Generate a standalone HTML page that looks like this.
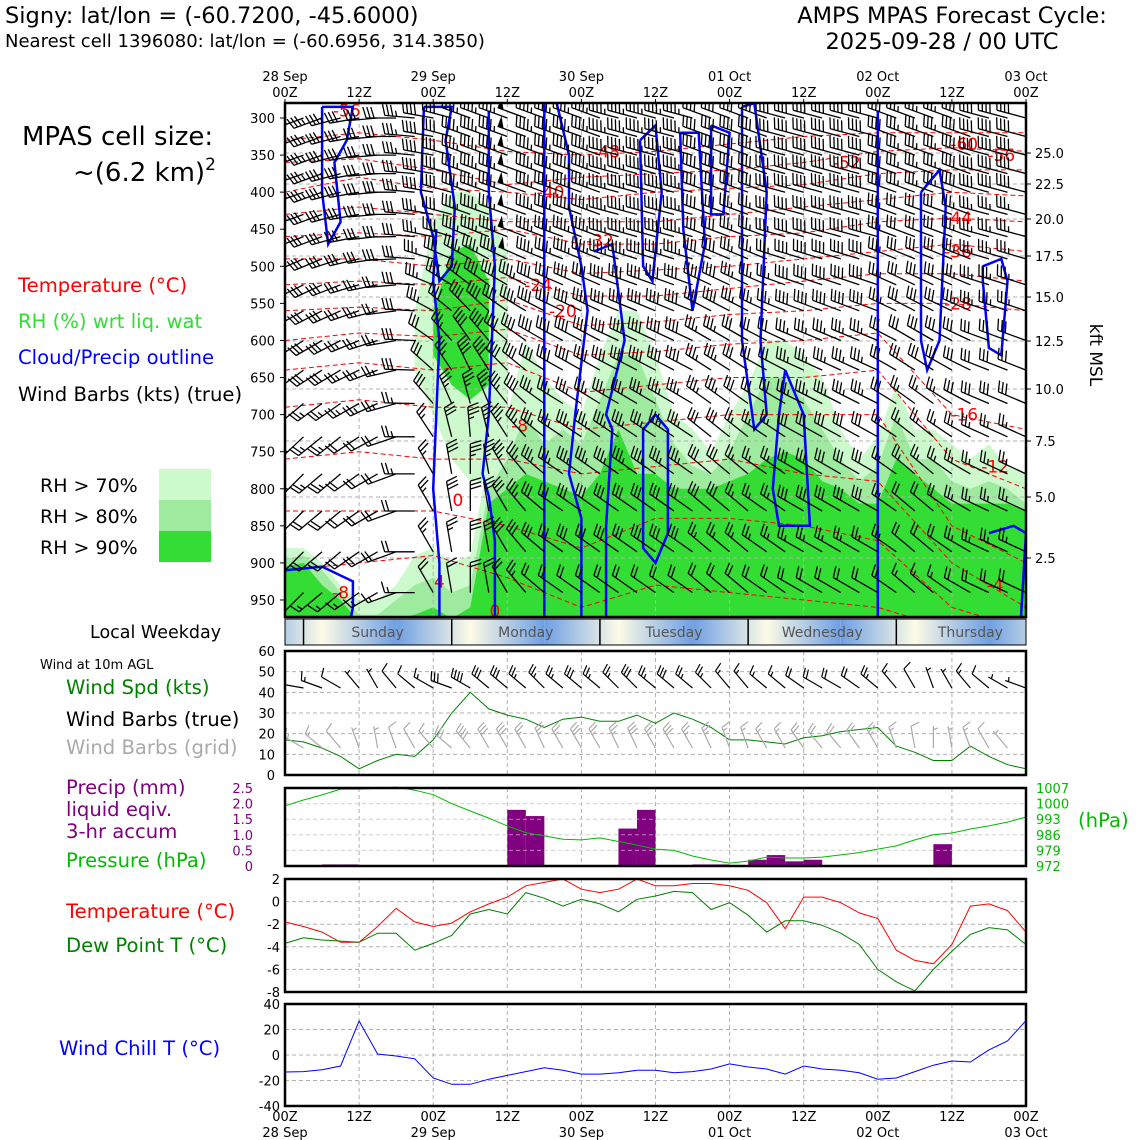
<!DOCTYPE html>
<html><head><meta charset="utf-8"><style>
html,body{margin:0;padding:0;background:#fff;}
svg{display:block;font-family:"DejaVu Sans","Liberation Sans",sans-serif;}
</style></head><body>
<svg id="chart" width="1140" height="1140" viewBox="0 0 1140 1140" xmlns="http://www.w3.org/2000/svg">
<defs>
<clipPath id="mainClip"><rect x="285" y="103" width="741" height="514"/></clipPath>
<clipPath id="windClip"><rect x="285" y="651" width="741" height="124"/></clipPath>
<clipPath id="dayClip"><rect x="285" y="619" width="741" height="26"/></clipPath>
<linearGradient id="dayGrad" x1="0" x2="1" y1="0" y2="0">
<stop offset="0" stop-color="#6f9fe3"/><stop offset="0.5" stop-color="#fdfbe6"/><stop offset="1" stop-color="#6f9fe3"/>
</linearGradient>
</defs>
<text x="5" y="23" font-size="22.5">Signy: lat/lon = (-60.7200, -45.6000)</text>
<text x="5" y="47" font-size="18">Nearest cell 1396080: lat/lon = (-60.6956, 314.3850)</text>
<text x="952" y="23" font-size="22.5" text-anchor="middle">AMPS MPAS Forecast Cycle:</text>
<text x="942" y="49" font-size="22.5" text-anchor="middle">2025-09-28 / 00 UTC</text>
<text x="22" y="145" font-size="26">MPAS cell size:</text>
<text x="73" y="181" font-size="26">~(6.2 km)<tspan font-size="17" dy="-11">2</tspan></text>
<text x="18" y="292" font-size="19.6" fill="#ff0000">Temperature (°C)</text>
<text x="18" y="328" font-size="19.6" fill="#33dd33">RH (%) wrt liq. wat</text>
<text x="18" y="364" font-size="19.6" fill="#0000ff">Cloud/Precip outline</text>
<text x="18" y="401" font-size="19.6" fill="#000">Wind Barbs (kts) (true)</text>
<text x="40" y="492" font-size="19">RH &gt; 70%</text>
<text x="40" y="523" font-size="19">RH &gt; 80%</text>
<text x="40" y="554" font-size="19">RH &gt; 90%</text>
<rect x="159" y="469" width="52" height="31" fill="#ccfacc"/>
<rect x="159" y="500" width="52" height="31" fill="#9eea9e"/>
<rect x="159" y="531" width="52" height="31" fill="#33dd33"/>
<text x="90" y="638" font-size="17.5">Local Weekday</text>
<text x="40" y="669" font-size="13">Wind at 10m AGL</text>
<text x="66" y="694" font-size="19.6" fill="#008000">Wind Spd (kts)</text>
<text x="66" y="726" font-size="19.6" fill="#000">Wind Barbs (true)</text>
<text x="66" y="754" font-size="19.6" fill="#aaaaaa">Wind Barbs (grid)</text>
<text x="66" y="794" font-size="19.6" fill="#800080">Precip (mm)</text>
<text x="66" y="816" font-size="19.6" fill="#800080">liquid eqiv.</text>
<text x="66" y="838" font-size="19.6" fill="#800080">3-hr accum</text>
<text x="66" y="867" font-size="19.6" fill="#00bb00">Pressure (hPa)</text>
<text x="1078" y="827" font-size="19.6" fill="#00bb00">(hPa)</text>
<text x="66" y="918" font-size="19.6" fill="#ff0000">Temperature (°C)</text>
<text x="66" y="952" font-size="19.6" fill="#008000">Dew Point T (°C)</text>
<text x="59" y="1055" font-size="19.6" fill="#0000ff">Wind Chill T (°C)</text>
<text x="1090" y="355" font-size="17" transform="rotate(90 1090 355)" text-anchor="middle">kft MSL</text>
<g id="layers"></g>
</svg>
<script>
// ===== data =====
const hours = [];for(let i=0;i<=40;i++)hours.push(i*3);
const windSpd = [17,16,13,9,3,7,10,9,17,30,40,32,29,27,23,27,28,26,26,29,25,30,27,23,17,17,16,15,18,19,21,22,23,14,11,7,7,14,9,5,3];
const windDir = [250,260,270,280,300,310,300,290,280,270,280,290,290,290,295,290,290,290,295,295,290,290,290,295,300,300,290,290,285,280,280,285,290,300,310,320,310,300,290,280,270];
const pressure = [999,1001.6,1003.9,1006.5,1006.5,1006.8,1007.4,1006,1004,1000,996.7,993.5,990,987,985.5,984,983.7,984.6,983,981.4,979.6,979,976.5,974.7,973.3,974.2,976,975.6,975.6,976,977,978,979.6,981,983.7,986,986.8,988.6,990,991.7,994];
const precipHours = [6,9,36,39,54,57,66,69,75,78,81,84,105];
const precipVals = [0.05,0.05,1.8,1.6,1.2,1.8,0.05,0.05,0.2,0.35,0.15,0.2,0.7];
const temp2m = [-1.8,-2.2,-2.7,-3.6,-3.6,-2.2,-0.6,-1.8,-2.2,-1.9,-0.9,-0.2,0.4,1.4,1.7,2,1.1,0.8,1.1,2,1.4,1.4,1.6,1.6,1.4,1,-0.1,-2.4,0.4,0.4,-0.1,-1,-1.5,-4.3,-5.2,-5.5,-3.8,-0.4,-0.2,-0.8,-2.7];
const dewpt = [-3.7,-3.2,-3.4,-3.5,-3.6,-2.8,-2.8,-4.3,-3.7,-3,-1.1,-0.7,-1.1,0.8,0.3,-0.4,0.2,-0.2,-0.9,0.2,0.5,0.9,0.8,-0.7,-0.1,-1.2,-2.7,-1.7,-1.7,-2.1,-2.8,-3.8,-6,-7.1,-7.9,-6,-4.4,-2.9,-2.3,-2.5,-3.8];
const windChill = [-13.3,-13,-11.5,-8.6,26.7,0.8,-0.8,-3,-18,-23,-23,-19,-16,-13,-10,-12,-15,-15,-14,-12,-12,-14,-13,-11,-7,-9.4,-11,-15,-8.6,-11,-12,-14,-19,-18,-13,-8,-4.7,-5.5,4,11,27];
const rh70top = [880,880,900,930,950,950,930,890,880,900,890,760,700,600,650,680,700,620,560,560,620,700,720,750,700,660,600,600,620,650,720,760,730,660,720,720,740,760,740,770,780];
const rh80top = [895,890,910,940,970,970,950,930,920,940,930,800,760,700,740,720,740,680,620,620,680,740,770,780,750,700,650,650,680,720,760,790,770,700,760,760,790,800,790,800,820];
const rh90top = [905,900,930,950,980,980,975,970,960,975,960,820,800,780,790,800,810,780,720,780,780,800,800,800,790,780,760,750,760,790,800,820,820,760,780,800,820,820,820,820,830];
const blob70Hours = [21,24,27,30,33,36];
const blob70Top = [560,440,400,400,420,480];
const blob70Bot = [640,700,760,790,790,760];
const blob90Hours = [24,27,30,33];
const blob90Top = [560,480,470,520];
const blob90Bot = [620,660,680,660];
const isoHours = [0,12,24,36,48,60,72,84,96,108,120];
const isotherms = [
 [330,320,330,345,350,345,335,325,320,320,320],
 [360,355,370,390,380,375,370,360,345,340,345],
 [400,380,395,400,410,400,395,390,375,370,370],
 [430,420,430,440,440,440,430,420,410,400,405],
 [460,455,460,450,470,470,460,455,440,435,440],
 [490,490,500,490,510,505,500,490,480,470,480],
 [525,520,525,515,540,540,530,520,510,510,520],
 [560,555,560,545,580,575,565,560,550,550,560],
 [600,590,595,585,620,615,605,600,590,700,720],
 [640,630,640,630,670,660,650,650,640,760,800],
 [690,680,690,690,720,710,700,700,700,850,900],
 [760,750,760,760,780,770,760,780,790,900,960],
 [830,830,830,850,880,840,840,850,870,960,990],
 [910,900,890,920,960,930,940,950,960,990,999]
];
const isoLabels = ["-56","-48","-40","-32","-24","-20","-8","0","4","-8","-36","-28","-16","-12","-4","-44","-52","-56","-60","0"];
const isoLabelHour = [10,52,43,51,41,45,38,28,25,9,109,109,110,115,115,109,91,116,110,34];
const isoLabelP = [290,345,400,465,525,560,715,815,925,940,480,550,700,770,930,435,360,350,335,965];
const clouds = [
 [[6,285],[11,285],[10,330],[8,360],[9,440],[7,470],[6,400],[6,285]],
 [[22.5,285],[27,285],[26,330],[27.5,420],[27,500],[25,520],[24,460],[22,400],[22.5,285]],
 [[24.5,450],[24,520],[25,600],[24.5,700],[24,800],[25,900],[25,1000]],
 [[33,290],[33,400],[34,500],[33,700],[32,780],[33,810],[34,870],[34,1000]],
 [[42,280],[42,1000]],
 [[44,280],[46,350],[46,420],[48,500],[49,560],[47,700],[46,780],[48,840],[48,1000]],
 [[50,480],[53,470],[55,600],[52,700],[53,720],[52,850],[52,1000]],
 [[57.5,330],[60,310],[61,400],[59.5,520],[58,500],[57.5,330]],
 [[64,320],[67,320],[68,470],[66,560],[64.5,450],[64,320]],
 [[69,310],[72,320],[71,430],[69,430],[69,310]],
 [[74,285],[76,280],[78,400],[77,600],[78,700],[76,720],[74,600],[74,285]],
 [[60,700],[62,720],[62,860],[60,900],[58,880],[58,720],[60,700]],
 [[81,640],[80,700],[79,800],[80,850],[85,850],[84,700],[81,640]],
 [[96,290],[96,1000]],
 [[103,400],[106,370],[107,420],[106,600],[104,640],[103,600],[103,400]],
 [[113,500],[116,490],[117,520],[116,620],[114,610],[113,520],[113,500]],
 [[0,910],[6,905],[11,925],[11,960],[10,1000]],
 [[114,860],[118,850],[120,860],[119,1000]]
];
const barbLevels = [300,325,350,375,400,430,460,490,525,560,600,640,685,730,780,830,885,940];
const levelSpeed = [42,42,42,42,42,40,40,40,38,38,35,35,33,30,30,28,25,20];
const dirHigh = [250,250,250,255,260,265,270,275,280,285,290,290,290,290,290,290,290,290,285,285,285,285,285,290,290,290,290,285,285,285,285,285,285,290,290,290,290,290,285,285,285];
const dirLow = [225,225,230,230,235,240,250,270,330,350,360,350,330,320,310,305,305,305,305,305,305,305,305,310,310,310,305,305,300,300,300,300,300,305,310,310,305,300,295,295,295];
const timeSpeedFactor = [0.8,0.8,0.8,0.8,0.7,0.7,0.7,0.8,0.9,1,1.1,1.1,1.1,1.2,1.1,1.1,1.1,1.1,1.1,1.1,1.1,1.1,1.1,1,1,0.9,0.9,0.9,1,1,1,1,1,0.9,0.8,0.8,0.8,0.9,0.9,0.9,0.9];
const pTicks = [300,350,400,450,500,550,600,650,700,750,800,850,900,950];
const kftTicks = ["25.0","22.5","20.0","17.5","15.0","12.5","10.0","7.5","5.0","2.5"];
const kftY = [153,184,219,256,297,341,389,441,497,558];
const timeTickHours = [0,12,24,36,48,60,72,84,96,108,120];
const timeTickLabels = ["00Z","12Z","00Z","12Z","00Z","12Z","00Z","12Z","00Z","12Z","00Z"];
const dateLabels = ["28 Sep","","29 Sep","","30 Sep","","01 Oct","","02 Oct","","03 Oct"];
const weekdays = ["Sunday","Monday","Tuesday","Wednesday","Thursday"];
const windTicks = [0,10,20,30,40,50,60];
const precipTicks = [0,0.5,1.0,1.5,2.0,2.5];
const presTicks = [972,979,986,993,1000,1007];
const tempTicks = [2,0,-2,-4,-6,-8];
const chillTicks = [40,20,0,-20,-40];

// ===== helpers =====
const NS="http://www.w3.org/2000/svg";
const root=document.getElementById('layers');
function el(tag,attrs,parent){const e=document.createElementNS(NS,tag);for(const k in attrs)e.setAttribute(k,attrs[k]);(parent||root).appendChild(e);return e;}
const X0=285,X1=1026;
const xT=h=>X0+h/120*(X1-X0);
const yP=p=>118+(p-300)*0.7415;
const yW=v=>775-v*(124/60);
const yPr=v=>866-v*(78/2.5);
const yPres=v=>866-(v-972)*(78/35);
const yTmp=v=>879+(2-v)*(113/10);
const yWC=v=>1004+(40-v)*(102/80);

function barb(parent,x,y,spd,dir,len,color,sw,fl,step){
  const r=dir*Math.PI/180;const ux=Math.sin(r),uy=-Math.cos(r);
  const tx=x+ux*len,ty=y+uy*len;
  let d=`M${x.toFixed(1)},${y.toFixed(1)}L${tx.toFixed(1)},${ty.toFixed(1)}`;
  const px=-uy,py=ux;
  let s=Math.round(spd/5)*5;let pos=0;
  let poly='';
  while(s>=50){const bx=tx-ux*pos,by=ty-uy*pos;const cx=tx-ux*(pos+step*1.6),cy=ty-uy*(pos+step*1.6);
    poly+=`M${bx.toFixed(1)},${by.toFixed(1)}L${(bx+px*fl).toFixed(1)},${(by+py*fl).toFixed(1)}L${cx.toFixed(1)},${cy.toFixed(1)}Z`;pos+=step*2;s-=50;}
  while(s>=10){const bx=tx-ux*pos,by=ty-uy*pos;d+=`M${bx.toFixed(1)},${by.toFixed(1)}l${(px*fl+ux*fl*0.3).toFixed(1)},${(py*fl+uy*fl*0.3).toFixed(1)}`;pos+=step;s-=10;}
  if(s>=5){if(pos===0)pos=step;const bx=tx-ux*pos,by=ty-uy*pos;d+=`M${bx.toFixed(1)},${by.toFixed(1)}l${(px*fl*0.5+ux*fl*0.15).toFixed(1)},${(py*fl*0.5+uy*fl*0.15).toFixed(1)}`;}
  const g=el('g',{},parent);
  el('path',{d:d,stroke:color,'stroke-width':sw,fill:'none'},g);
  if(poly)el('path',{d:poly,fill:color,stroke:'none'},g);
  return g;
}
function polyline(parent,xs,ys,color,w,dash){
  let d='';for(let i=0;i<xs.length;i++)d+=(i?'L':'M')+xs[i].toFixed(1)+','+ys[i].toFixed(1);
  const a={d:d,fill:'none',stroke:color,'stroke-width':w};if(dash)a['stroke-dasharray']=dash;
  return el('path',a,parent);
}
function txt(parent,x,y,s,size,anchor,fill){const t=el('text',{x:x,y:y,'font-size':size,'text-anchor':anchor||'start',fill:fill||'#000'},parent);t.textContent=s;return t;}

// ===== main panel =====
const main=el('g',{'clip-path':'url(#mainClip)'});


function rhArea(tops,color,name){
  let d=`M${xT(hours[0])},${yP(1000)}`;
  for(let i=0;i<hours.length;i++)d+=`L${xT(hours[i]).toFixed(1)},${yP(tops[i]).toFixed(1)}`;
  d+=`L${xT(120)},${yP(1000)}Z`;
  const a=el('path',{d:d,fill:color,stroke:'none'},main);
  
  
}
function blob(hs,tops,bots,color,name){
  let d='';
  for(let i=0;i<hs.length;i++)d+=(i?'L':'M')+xT(hs[i]).toFixed(1)+','+yP(tops[i]).toFixed(1);
  for(let i=hs.length-1;i>=0;i--)d+='L'+xT(hs[i]).toFixed(1)+','+yP(bots[i]).toFixed(1);
  const a=el('path',{d:d+'Z',fill:color,stroke:'none'},main);
  
  
}
rhArea(rh70top,'#ccfacc','rh-70-area');
blob(blob70Hours,blob70Top,blob70Bot,'#ccfacc','rh-70-mid-blob');
rhArea(rh80top,'#9eea9e','rh-80-area');
rhArea(rh90top,'#33dd33','rh-90-area');
blob(blob90Hours,blob90Top,blob90Bot,'#33dd33','rh-90-mid-blob');
for(let i=1;i<timeTickHours.length-1;i++){
  const gl=el('line',{x1:xT(timeTickHours[i]),x2:xT(timeTickHours[i]),y1:103,y2:617,stroke:'#b0b0b0','stroke-dasharray':'4,3','stroke-width':1},main);
  
  
}
for(let i=0;i<kftY.length;i++){
  const gl=el('line',{x1:285,x2:1026,y1:kftY[i],y2:kftY[i],stroke:'#b0b0b0','stroke-dasharray':'4,3','stroke-width':1},main);
  
  
}
isotherms.forEach(arr=>{
  const l=polyline(main,isoHours.map(xT),arr.map(yP),'#ff0000',1,'5,3');
  
  
});
for(let i=0;i<isoLabels.length;i++){
  const t=txt(main,xT(isoLabelHour[i]),yP(isoLabelP[i])+6,isoLabels[i],17,'middle','#ff0000');
  
  
}
clouds.forEach(c=>{
  const l=polyline(main,c.map(q=>xT(q[0])),c.map(q=>yP(q[1])),'#0000ff',2.5);
  
  
});
for(let j=0;j<hours.length;j++){
  for(let i=0;i<barbLevels.length;i++){
    const w=Math.min(1,Math.max(0,(barbLevels[i]-450)/300));
    const dir=dirHigh[j]*(1-w)+dirLow[j]*w;
    const b=barb(main,xT(hours[j]),yP(barbLevels[i]),levelSpeed[i]*timeSpeedFactor[j],dir,30,'#000',1.3,11,4);
    
    
  }
}
const mf=el('rect',{x:285,y:103,width:741,height:514,fill:'none',stroke:'#000','stroke-width':2.5});


for(let i=0;i<pTicks.length;i++){
  const t=txt(root,275,yP(pTicks[i])+5,String(pTicks[i]),13,'end');
  
  
  el('line',{x1:280,x2:285,y1:yP(pTicks[i]),y2:yP(pTicks[i]),stroke:'#000'});
}
for(let i=0;i<kftTicks.length;i++){
  const t=txt(root,1035,kftY[i]+5,kftTicks[i],13,'start');
  
  
  el('line',{x1:1026,x2:1031,y1:kftY[i],y2:kftY[i],stroke:'#000'});
}
for(let i=0;i<timeTickHours.length;i++){
  const x=xT(timeTickHours[i]);
  const t=txt(root,x,97,timeTickLabels[i],13,'middle');
  
  
  if(dateLabels[i]){const d=txt(root,x,81,dateLabels[i],13,'middle');
    
    }
  el('line',{x1:x,x2:x,y1:99,y2:103,stroke:'#000'});
}

// ===== weekday bar =====
const dayG=el('g',{'clip-path':'url(#dayClip)'});
for(let d=-1;d<5;d++){
  const xs=xT(18+d*24),xe=xT(18+(d+1)*24);
  const r=el('rect',{x:xs,y:619,width:xe-xs,height:26,fill:'url(#dayGrad)'},dayG);
  
  
}
for(let d=0;d<5;d++){
  const xs=xT(3+d*24);
  el('line',{x1:xs,x2:xs,y1:619,y2:645,stroke:'#000','stroke-width':1.5});
  const t=txt(root,xT(15+d*24),637,weekdays[d],14,'middle','#555');
  
  
}
el('rect',{x:285,y:619,width:741,height:26,fill:'none',stroke:'#000','stroke-width':1});

// ===== generic panel drawing =====
function panel(y0,y1,name){
  const g=el('g',{});
  
  
  for(let i=1;i<timeTickHours.length-1;i++){
    const x=xT(timeTickHours[i]);
    el('line',{x1:x,x2:x,y1:y0,y2:y1,stroke:'#b0b0b0','stroke-dasharray':'4,3'},g);
  }
  return g;
}
function hgrid(g,y){el('line',{x1:285,x2:1026,y1:y,y2:y,stroke:'#b0b0b0','stroke-dasharray':'4,3'},g);}
function frame(y0,y1,name){const f=el('rect',{x:285,y:y0,width:741,height:y1-y0,fill:'none',stroke:'#000','stroke-width':2.5});
  
  }

// wind panel
const wp=panel(651,775,'wind-panel');
windTicks.forEach(v=>{hgrid(wp,yW(v));const t=txt(root,275,yW(v)+5,String(v),13,'end');
  
  });
const wl=polyline(wp,hours.map(xT),windSpd.map(yW),'#008000',1);


const wc=el('g',{'clip-path':'url(#windClip)'});
for(let j=0;j<hours.length;j++){
  const b1=barb(wc,xT(hours[j]),688,windSpd[j],windDir[j]+20,22,'#000',1.2,9,3.5);
  
  
  if(j>0&&j<40){const b2=barb(wc,xT(hours[j]),748,windSpd[j],windDir[j]+40,22,'#aaaaaa',1.2,9,3.5);
  
  }
}
frame(651,775,'wind-panel-frame');

// precip/pressure panel
const pp=panel(788,866,'precip-panel');
precipTicks.forEach(v=>{hgrid(pp,yPr(v));const t=txt(root,253,yPr(v)+5,String(v===0?'0':v.toFixed(1)),13,'end','#800080');
  
  });
for(let i=0;i<precipVals.length;i++){
  const x=xT(precipHours[i]),w=xT(3)-xT(0);
  const b=el('rect',{x:x,y:yPr(precipVals[i]),width:w,height:866-yPr(precipVals[i]),fill:'#800080'},pp);
  
  
}
precipTicks.forEach(v=>{if(v>0)el('line',{x1:285,x2:1026,y1:yPr(v),y2:yPr(v),stroke:'#ffffff','stroke-opacity':0.5,'stroke-dasharray':'4,3'},pp);});
presTicks.forEach(v=>{const t=txt(root,1036,yPres(v)+5,String(v),13,'start','#00bb00');
  
  });
const pl=polyline(pp,hours.map(xT),pressure.map(yPres),'#00bb00',1);


frame(788,866,'precip-panel-frame');

// temperature panel
const tp=panel(879,992,'temperature-panel');
tempTicks.forEach(v=>{hgrid(tp,yTmp(v));const t=txt(root,280,yTmp(v)+5,String(v),13,'end');
  
  });
const tl=polyline(tp,hours.map(xT),temp2m.map(yTmp),'#ff0000',1);


const dl=polyline(tp,hours.map(xT),dewpt.map(yTmp),'#008000',1);


frame(879,992,'temperature-panel-frame');

// wind chill panel
const cp=panel(1004,1106,'wind-chill-panel');
chillTicks.forEach(v=>{hgrid(cp,yWC(v));const t=txt(root,280,yWC(v)+5,String(v),13,'end');
  
  });
const cl=polyline(cp,hours.map(xT),windChill.map(yWC),'#0000ff',1);


frame(1004,1106,'wind-chill-panel-frame');
for(let i=0;i<timeTickHours.length;i++){
  const x=xT(timeTickHours[i]);
  const t=txt(root,x,1121,timeTickLabels[i],13,'middle');
  
  
  if(dateLabels[i]){const d=txt(root,x,1137,dateLabels[i],13,'middle');
    
    }
}
</script>
</body></html>
